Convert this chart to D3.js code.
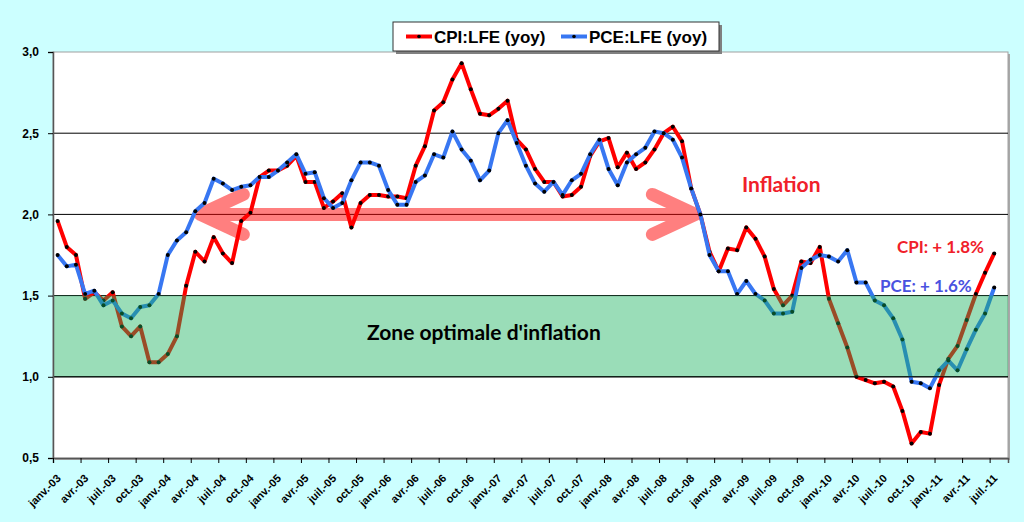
<!DOCTYPE html>
<html>
<head>
<meta charset="utf-8">
<script src="https://cdn.jsdelivr.net/npm/d3@7"></script>
<style>
  body { margin: 0; background: #ccffff; }
  svg { display: block; }
</style>
</head>
<body>
<div id="chart"></div>
<script>
// monthly yoy core inflation, janv.-03 .. juil.-11 (index 0 = janv.-03)
const cpi = [
  1.96, 1.80, 1.75, 1.48, 1.52, 1.47, 1.52, 1.31, 1.25, 1.31, 1.09, 1.09,
  1.14, 1.25, 1.56, 1.77, 1.71, 1.86, 1.76, 1.70, 1.96, 2.01, 2.23, 2.27,
  2.27, 2.30, 2.36, 2.20, 2.20, 2.04, 2.08, 2.13, 1.92, 2.07, 2.12, 2.12,
  2.11, 2.11, 2.10, 2.30, 2.42, 2.64, 2.69, 2.83, 2.93, 2.77, 2.62, 2.61,
  2.65, 2.70, 2.46, 2.40, 2.28, 2.20, 2.20, 2.11, 2.12, 2.17, 2.36, 2.45,
  2.47, 2.29, 2.38, 2.28, 2.32, 2.40, 2.50, 2.54, 2.45, 2.16, 2.00, 1.77,
  1.65, 1.79, 1.78, 1.92, 1.85, 1.74, 1.54, 1.44, 1.50, 1.71, 1.70, 1.80,
  1.48, 1.33, 1.18, 1.00, 0.98, 0.96, 0.97, 0.94, 0.79, 0.59, 0.66, 0.65,
  0.95, 1.11, 1.19, 1.35, 1.51, 1.64, 1.76
];
const pce = [
  1.75, 1.68, 1.69, 1.51, 1.53, 1.44, 1.47, 1.39, 1.36, 1.43, 1.44, 1.51,
  1.75, 1.84, 1.89, 2.02, 2.07, 2.22, 2.19, 2.15, 2.17, 2.18, 2.23, 2.23,
  2.27, 2.32, 2.37, 2.25, 2.26, 2.10, 2.04, 2.07, 2.21, 2.32, 2.32, 2.30,
  2.15, 2.06, 2.06, 2.20, 2.24, 2.37, 2.35, 2.51, 2.40, 2.33, 2.21, 2.27,
  2.50, 2.58, 2.44, 2.30, 2.19, 2.14, 2.20, 2.12, 2.21, 2.25, 2.37, 2.46,
  2.28, 2.18, 2.32, 2.37, 2.41, 2.51, 2.50, 2.46, 2.35, 2.16, 2.00, 1.75,
  1.65, 1.65, 1.51, 1.59, 1.51, 1.47, 1.39, 1.39, 1.40, 1.67, 1.72, 1.75,
  1.74, 1.71, 1.78, 1.58, 1.58, 1.47, 1.44, 1.36, 1.23, 0.97, 0.96, 0.93,
  1.04, 1.10, 1.04, 1.17, 1.29, 1.39, 1.55
];
const tickLabels = [
  "janv.-03", "avr.-03", "juil.-03", "oct.-03",
  "janv.-04", "avr.-04", "juil.-04", "oct.-04",
  "janv.-05", "avr.-05", "juil.-05", "oct.-05",
  "janv.-06", "avr.-06", "juil.-06", "oct.-06",
  "janv.-07", "avr.-07", "juil.-07", "oct.-07",
  "janv.-08", "avr.-08", "juil.-08", "oct.-08",
  "janv.-09", "avr.-09", "juil.-09", "oct.-09",
  "janv.-10", "avr.-10", "juil.-10", "oct.-10",
  "janv.-11", "avr.-11", "juil.-11"
];
const seriesNames = ["CPI:LFE (yoy)", "PCE:LFE (yoy)"];
const zoneRange = [1.0, 1.5];
const arrowSpan = [15, 70];   // month indexes of the two arrow tips
const arrowLevel = 2.0;

const width = 1024, height = 522;
const plotLeft = 53, plotRight = 1008, plotTop = 52, plotBottom = 458;
const red = "#ff0000", blue = "#3877f2";

const svg = d3.select("#chart").append("svg")
    .attr("width", width)
    .attr("height", height);

svg.append("rect")
    .attr("width", width).attr("height", height)
    .attr("fill", "#ccffff");

const x = d3.scaleLinear().domain([-0.5, cpi.length + 0.5]).range([plotLeft, plotRight]);
const y = d3.scaleLinear().domain([0.5, 3.0]).range([plotBottom, plotTop]);

// plot area with a small shadow
svg.append("rect")
    .attr("x", plotLeft + 2).attr("y", plotTop + 2)
    .attr("width", plotRight - plotLeft).attr("height", plotBottom - plotTop)
    .attr("fill", "#a8a8a8");
svg.append("rect")
    .attr("x", plotLeft).attr("y", plotTop)
    .attr("width", plotRight - plotLeft).attr("height", plotBottom - plotTop)
    .attr("fill", "#ffffff")
    .attr("stroke", "#a0a0a0");

// horizontal gridlines
svg.append("g")
    .selectAll("line")
    .data([1.0, 1.5, 2.0, 2.5])
    .enter().append("line")
    .attr("x1", plotLeft).attr("x2", plotRight)
    .attr("y1", d => y(d)).attr("y2", d => y(d))
    .attr("stroke", "#000")
    .attr("stroke-width", 1);

// double arrow around the 2% level
const ax0 = x(arrowSpan[0]) + 5, ax1 = x(arrowSpan[1]) - 5, ay = y(arrowLevel);
svg.append("path")
    .attr("d", `M${ax0 + 43},${ay - 20} L${ax0},${ay} L${ax0 + 43},${ay + 20}` +
               ` M${ax0},${ay} L${ax1},${ay}` +
               ` M${ax1 - 43},${ay - 20} L${ax1},${ay} L${ax1 - 43},${ay + 20}`)
    .attr("fill", "none")
    .attr("stroke", "#ff0000")
    .attr("stroke-opacity", 0.5)
    .attr("stroke-width", 13)
    .attr("stroke-linecap", "round")
    .attr("stroke-linejoin", "round");

const line = d3.line()
    .x((d, i) => x(i))
    .y(d => y(d));

[[cpi, red], [pce, blue]].forEach(([data, color]) => {
    svg.append("path")
        .datum(data)
        .attr("fill", "none")
        .attr("stroke", color)
        .attr("stroke-width", 4)
        .attr("stroke-linejoin", "round")
        .attr("d", line);

    svg.append("g")
        .selectAll("circle")
        .data(data)
        .enter().append("circle")
        .attr("cx", (d, i) => x(i))
        .attr("cy", d => y(d))
        .attr("r", 2)
        .attr("fill", "#000");
});

// zone optimale (translucent green over the lines)
svg.append("rect")
    .attr("x", plotLeft).attr("y", y(zoneRange[1]))
    .attr("width", plotRight - plotLeft).attr("height", y(zoneRange[0]) - y(zoneRange[1]))
    .attr("fill", "rgb(20,176,90)")
    .attr("fill-opacity", 0.43);
svg.append("line")
    .attr("x1", plotLeft).attr("x2", plotRight)
    .attr("y1", y(zoneRange[0])).attr("y2", y(zoneRange[0]))
    .attr("stroke", "#000");

// axes
const yAxis = svg.append("g")
    .attr("transform", `translate(${plotLeft},0)`)
    .call(d3.axisLeft(y).tickValues([0.5, 1.0, 1.5, 2.0, 2.5, 3.0])
        .tickSize(5).tickPadding(9)
        .tickFormat(d => d3.format(".1f")(d).replace(".", ",")));
yAxis.select(".domain").attr("stroke", "#555").attr("stroke-width", 1.5);
yAxis.selectAll("text")
    .attr("font-family", "'Liberation Sans', Arial, sans-serif")
    .attr("font-weight", "bold")
    .attr("font-size", 12)
    .attr("fill", "#000");

const tickPos = d3.range(tickLabels.length).map(k => -0.5 + 3 * k);
const xAxis = svg.append("g")
    .attr("transform", `translate(0,${plotBottom})`)
    .call(d3.axisBottom(x).tickValues(tickPos).tickSize(5)
        .tickFormat((d, i) => tickLabels[i]));
xAxis.select(".domain").attr("stroke", "#555").attr("stroke-width", 1.5);
xAxis.selectAll("text")
    .attr("x", 0).attr("y", 0).attr("dy", 0)
    .attr("transform", "translate(8,21) rotate(-45)")
    .attr("text-anchor", "end")
    .attr("font-family", "'Liberation Sans', Arial, sans-serif")
    .attr("font-weight", "bold")
    .attr("font-size", 11)
    .attr("fill", "#000");

// annotations
const note = "Lato, 'Open Sans', sans-serif";
svg.append("text")
    .attr("x", 742).attr("y", 192)
    .attr("font-family", note).attr("font-weight", "bold").attr("font-size", 21)
    .attr("fill", "#f0202a")
    .text("Inflation");
svg.append("text")
    .attr("x", 367).attr("y", 340)
    .attr("font-family", note).attr("font-weight", "bold").attr("font-size", 21)
    .attr("fill", "#000")
    .text("Zone optimale d'inflation");
svg.append("text")
    .attr("x", 897).attr("y", 253)
    .attr("font-family", note).attr("font-weight", "bold").attr("font-size", 17)
    .attr("fill", "#f0202a")
    .text("CPI: + 1.8%");
svg.append("text")
    .attr("x", 880).attr("y", 292)
    .attr("font-family", note).attr("font-weight", "bold").attr("font-size", 17)
    .attr("fill", "#4a52e0")
    .text("PCE: + 1.6%");

// legend
const legend = svg.append("g").attr("transform", "translate(393,22)");
legend.append("rect")
    .attr("x", 3).attr("y", 3).attr("width", 326).attr("height", 29)
    .attr("fill", "#808080");
legend.append("rect")
    .attr("width", 326).attr("height", 29)
    .attr("fill", "#fff").attr("stroke", "#333");
[[seriesNames[0], red, 13], [seriesNames[1], blue, 168]].forEach(([name, color, lx]) => {
    legend.append("line")
        .attr("x1", lx).attr("x2", lx + 26)
        .attr("y1", 14.5).attr("y2", 14.5)
        .attr("stroke", color).attr("stroke-width", 4);
    legend.append("circle")
        .attr("cx", lx + 13).attr("cy", 14.5).attr("r", 1.8)
        .attr("fill", "#000");
    legend.append("text")
        .attr("x", lx + 28).attr("y", 21)
        .attr("font-family", "'Liberation Sans', Arial, sans-serif")
        .attr("font-weight", "bold").attr("font-size", 17)
        .attr("fill", "#000")
        .text(name);
});
</script>
</body>
</html>
